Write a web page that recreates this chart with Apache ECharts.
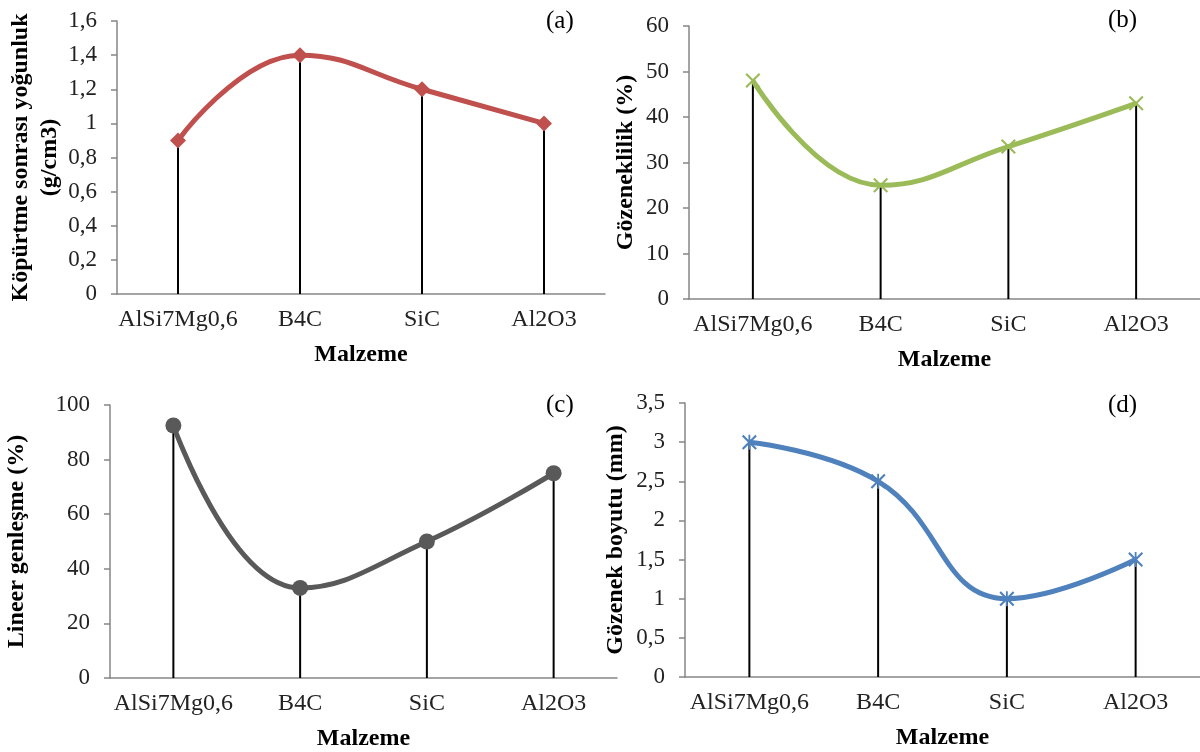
<!DOCTYPE html>
<html>
<head>
<meta charset="utf-8">
<script src="https://cdn.jsdelivr.net/npm/echarts@6/dist/echarts.min.js"></script>
<style>
  html, body { margin: 0; padding: 0; background: #fff; }
  #chart { width: 1200px; height: 752px; }
</style>
</head>
<body>
<div id="chart"></div>
<script>
// malzemeler
const categories = ['AlSi7Mg0,6', 'B4C', 'SiC', 'Al2O3']
// (a) köpürtme sonrası yoğunluk, g/cm3
const densityValues = [0.9, 1.4, 1.2, 1.0]
// (b) gözeneklilik, %
const porosityValues = [48, 25, 33.5, 43]
// (c) lineer genleşme, %
const expansionValues = [92.5, 33, 50, 75]
// (d) gözenek boyutu, mm
const poreSizeValues = [3, 2.5, 1, 1.5]

const FONT = '"Liberation Serif", "Times New Roman", serif'
const AXIS_GRAY = '#868686'

const xMarker = 'path://M0,1 L1,0 L5,4 L9,0 L10,1 L6,5 L10,9 L9,10 L5,6 L1,10 L0,9 L4,5 Z'
const starMarker = 'path://M0,1 L1,0 L5,4 L9,0 L10,1 L6,5 L10,9 L9,10 L5,6 L1,10 L0,9 L4,5 Z M4.4,0 L5.6,0 L5.6,10 L4.4,10 Z'

const comma = function (v) {
  return String(v).replace('.', ',')
}

const grids = []
const xAxes = []
const yAxes = []
const series = []
const texts = []

// tek panel: eksenler + dikey çizgiler + yumuşak çizgi
const addPanel = function (p) {
  const i = grids.length
  grids.push({ left: p.left, top: p.top, width: p.width, height: p.height })
  xAxes.push({
    gridIndex: i,
    type: 'category',
    data: categories,
    boundaryGap: true,
    name: 'Malzeme',
    nameLocation: 'middle',
    nameGap: 49,
    nameTextStyle: { fontFamily: FONT, fontSize: 24, fontWeight: 'bold', color: '#000' },
    axisLine: { lineStyle: { color: AXIS_GRAY, width: 1.5 } },
    axisTick: { show: false },
    axisLabel: { interval: 0, hideOverlap: false, fontFamily: FONT, fontSize: 24, color: '#222', margin: 14 },
    splitLine: { show: false }
  })
  yAxes.push({
    gridIndex: i,
    type: 'value',
    min: 0,
    max: p.max,
    interval: p.interval,
    name: p.yName,
    nameLocation: 'middle',
    nameGap: p.nameGap,
    nameTextStyle: { fontFamily: FONT, fontSize: 24, fontWeight: 'bold', color: '#000', lineHeight: 29 },
    axisLine: { show: true, lineStyle: { color: AXIS_GRAY, width: 1.5 } },
    axisTick: { show: true, length: 6, lineStyle: { color: AXIS_GRAY, width: 1.5 } },
    axisLabel: { fontFamily: FONT, fontSize: 23, color: '#222', margin: 20, formatter: comma },
    splitLine: { show: false }
  })
  // noktadan eksene inen siyah çizgiler
  series.push({
    type: 'bar',
    xAxisIndex: i,
    yAxisIndex: i,
    data: p.values,
    barWidth: 2,
    itemStyle: { color: '#000' },
    silent: true,
    z: 1
  })
  series.push({
    type: 'line',
    xAxisIndex: i,
    yAxisIndex: i,
    data: p.values,
    smooth: 0.45,
    symbol: p.symbol,
    symbolSize: p.symbolSize,
    lineStyle: { color: p.color, width: 5 },
    itemStyle: { color: p.color },
    z: 3
  })
  texts.push({
    type: 'text',
    left: p.tagX,
    top: p.tagY,
    style: { text: p.tag, font: '25px ' + FONT, fill: '#000' }
  })
}

addPanel({
  left: 117, top: 21, width: 488, height: 273,
  max: 1.6, interval: 0.2, values: densityValues,
  yName: 'Köpürtme sonrası yoğunluk\n(g/cm3)', nameGap: 50,
  color: '#C0504D', symbol: 'diamond', symbolSize: 16,
  tag: '(a)', tagX: 546, tagY: 9
})
addPanel({
  left: 689, top: 26, width: 521, height: 273,
  max: 60, interval: 10, values: porosityValues,
  yName: 'Gözeneklilik (%)', nameGap: 49,
  color: '#9BBB59', symbol: xMarker, symbolSize: 15,
  tag: '(b)', tagX: 1108, tagY: 8
})
addPanel({
  left: 110, top: 405, width: 507, height: 273,
  max: 100, interval: 20, values: expansionValues,
  yName: 'Lineer genleşme (%)', nameGap: 79,
  color: '#595959', symbol: 'circle', symbolSize: 16,
  tag: '(c)', tagX: 546, tagY: 393
})
addPanel({
  left: 685, top: 403, width: 516, height: 274,
  max: 3.5, interval: 0.5, values: poreSizeValues,
  yName: 'Gözenek boyutu (mm)', nameGap: 55,
  color: '#4F81BD', symbol: starMarker, symbolSize: 15,
  tag: '(d)', tagX: 1108, tagY: 393
})

const chart = echarts.init(document.getElementById('chart'), null, { renderer: 'canvas' })
chart.setOption({
  animation: false,
  backgroundColor: '#fff',
  grid: grids,
  xAxis: xAxes,
  yAxis: yAxes,
  series: series,
  graphic: texts
})
</script>
</body>
</html>
